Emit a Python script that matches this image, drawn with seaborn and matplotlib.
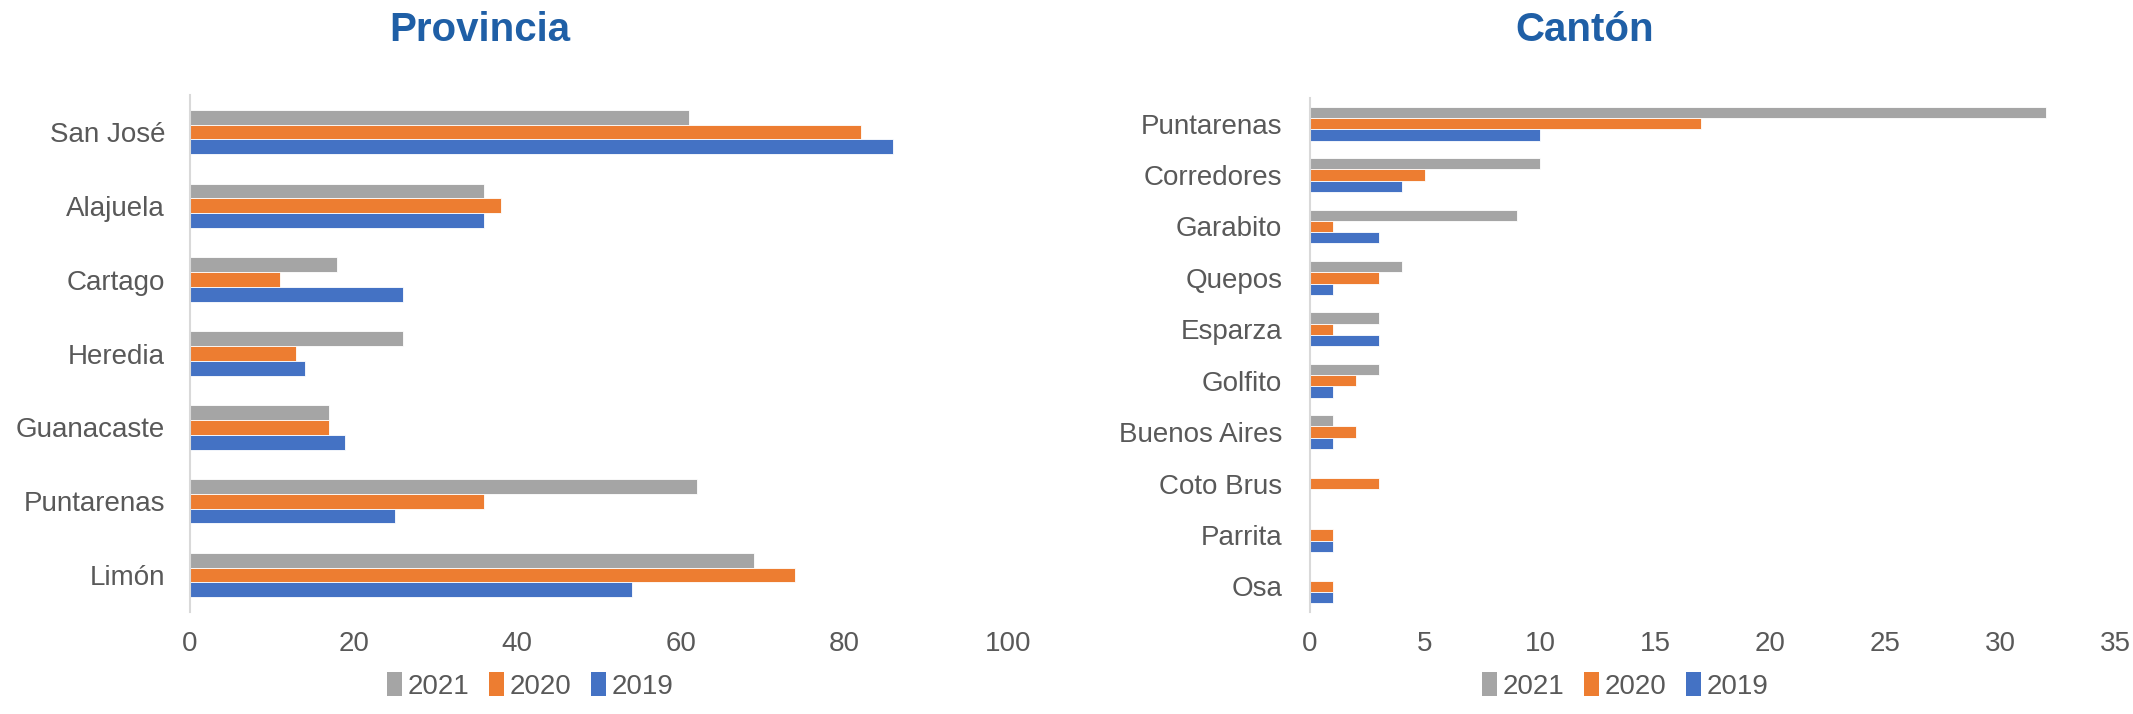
import matplotlib
matplotlib.use("Agg")
import matplotlib.pyplot as plt
import seaborn as sns
import pandas as pd
from matplotlib.patches import Patch

sns.set_theme(style="white")
plt.rcParams['font.family'] = ['Liberation Sans', 'DejaVu Sans']

years = ["2021", "2020", "2019"]
colors = {"2021": "#A5A5A5", "2020": "#ED7D31", "2019": "#4472C4"}

provincias = ["San José", "Alajuela", "Cartago", "Heredia", "Guanacaste", "Puntarenas", "Limón"]
prov_2021 = [61, 36, 18, 26, 17, 62, 69]
prov_2020 = [82, 38, 11, 13, 17, 36, 74]
prov_2019 = [86, 36, 26, 14, 19, 25, 54]

cantones = ["Puntarenas", "Corredores", "Garabito", "Quepos", "Esparza", "Golfito",
            "Buenos Aires", "Coto Brus", "Parrita", "Osa"]
cant_2021 = [32, 10, 9, 4, 3, 3, 1, 0, 0, 0]
cant_2020 = [17, 5, 1, 3, 1, 2, 2, 3, 1, 1]
cant_2019 = [10, 4, 3, 1, 3, 1, 1, 0, 1, 1]

x_ticks_prov = [0, 20, 40, 60, 80, 100]
x_ticks_cant = [0, 5, 10, 15, 20, 25, 30, 35]


def long_df(cats, v21, v20, v19):
    rows = []
    for y, vals in zip(years, [v21, v20, v19]):
        for c, v in zip(cats, vals):
            rows.append({"cat": c, "year": y, "value": v})
    return pd.DataFrame(rows)


df_prov = long_df(provincias, prov_2021, prov_2020, prov_2019)
df_cant = long_df(cantones, cant_2021, cant_2020, cant_2019)

W, H = 2133, 714
fig = plt.figure(figsize=(W / 100, H / 100), dpi=100)

ax1 = fig.add_axes([190 / W, 1 - 612 / H, (1008 - 190) / W, (612 - 95) / H])
ax2 = fig.add_axes([1310 / W, 1 - 612 / H, (2115 - 1310) / W, (612 - 98) / H])

tick_color = "#595959"
title_color = "#1F5FA6"


def draw(ax, df, cats, ticks, width, xmax, ypad):
    sns.barplot(data=df, x="value", y="cat", hue="year", hue_order=years,
                order=cats, palette=colors, orient="h", width=width,
                ax=ax, legend=False, edgecolor="white", linewidth=0.6, saturation=1)
    ax.set_xlim(0, xmax)
    ax.set_xticks(ticks)
    ax.set_xlabel("")
    ax.set_ylabel("")
    for s in ["top", "right", "bottom"]:
        ax.spines[s].set_visible(False)
    ax.spines["left"].set_color("#D9D9D9")
    ax.spines["left"].set_linewidth(1.5)
    ax.tick_params(axis="both", length=0, labelsize=20, colors=tick_color)
    ax.tick_params(axis="y", pad=ypad)
    ax.tick_params(axis="x", pad=14)
    ax.set_ylim(len(cats) - 0.5, -0.5)


draw(ax1, df_prov, provincias, x_ticks_prov, 0.6, 100, 18)
draw(ax2, df_cant, cantones, x_ticks_cant, 0.66, 35, 20)

fig.text(480 / W, 1 - 30 / H, "Provincia", ha="center", va="center",
         fontsize=29, fontweight="bold", color=title_color)
fig.text(1585 / W, 1 - 30 / H, "Cantón", ha="center", va="center",
         fontsize=29, fontweight="bold", color=title_color)

handles = [Patch(facecolor=colors[y], edgecolor="none", label=y) for y in years]
for cx in [530 / W, 1625 / W]:
    leg = fig.legend(handles=handles, loc="center", bbox_to_anchor=(cx, 1 - 686 / H),
                     ncol=3, frameon=False, fontsize=20, handlelength=0.55,
                     handleheight=0.9, handletextpad=0.2, columnspacing=0.7)
    for t in leg.get_texts():
        t.set_color(tick_color)

fig.savefig("out.png", dpi=100, facecolor="white")
